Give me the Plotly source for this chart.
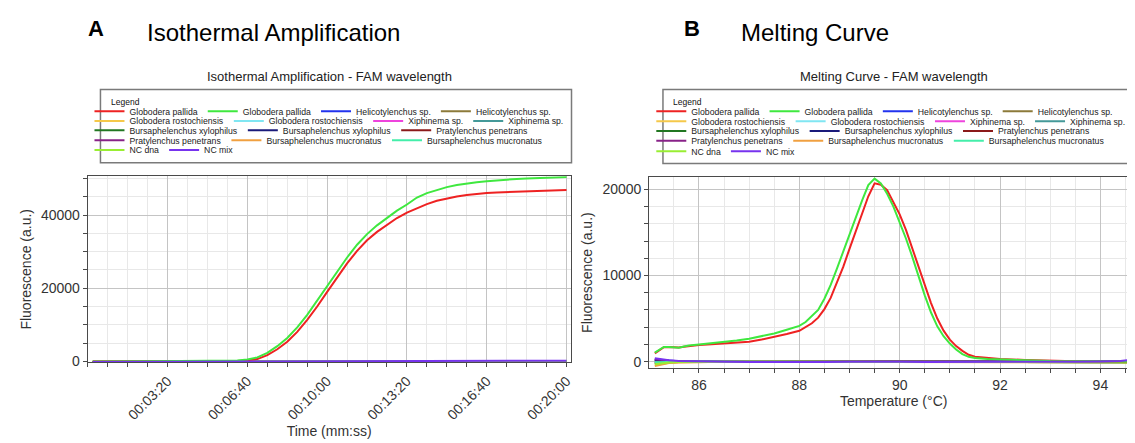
import plotly.graph_objects as go

W, H = 1135, 443
def px(x):
    return x / W
def py(y):
    return 1 - y / H

FONT = "Liberation Sans, Arial, sans-serif"

# ---------------- legend entries ----------------
series_names = [
    "Globodera pallida", "Globodera pallida", "Helicotylenchus sp.", "Helicotylenchus sp.",
    "Globodera rostochiensis", "Globodera rostochiensis", "Xiphinema sp.", "Xiphinema sp.",
    "Bursaphelenchus xylophilus", "Bursaphelenchus xylophilus", "Pratylenchus penetrans",
    "Pratylenchus penetrans", "Bursaphelenchus mucronatus", "Bursaphelenchus mucronatus",
    "NC dna", "NC mix",
]
series_colors = [
    "#ee2222", "#3fe83f", "#2233ee", "#8c7a3a",
    "#f5c84a", "#80e6f2", "#ee44dd", "#449999",
    "#227722", "#1a1a7a", "#8b1a1a",
    "#882288", "#f0a040", "#44eeaa",
    "#99ee33", "#7733ee",
]
legend_row = [0, 0, 0, 0, 1, 1, 1, 1, 2, 2, 2, 3, 3, 3, 4, 4]

# ---------------- A: isothermal amplification ----------------
amp_time = [12.5, 25, 50, 75, 100, 125, 150, 175, 200, 225, 250, 275, 300, 325, 350, 375,
            400, 425, 450, 475, 500, 525, 550, 575, 600, 625, 650, 675, 700, 725, 750, 775,
            800, 825, 850, 875, 900, 925, 950, 975, 1000, 1025, 1050, 1075, 1100, 1125,
            1150, 1175, 1200]
amp_gp_1 = [-150, -140, -130, -120, -110, -100, -90, -80, -70, -60, -50, -40, -20, 0, 40, 110,
            260, 620, 1700, 3300, 5350, 8050, 11350, 15000, 19000, 23000, 26800, 30200, 33100,
            35400, 37400, 39200, 40700, 41900, 43000, 43900, 44600, 45100, 45500, 45800, 46050,
            46180, 46280, 46350, 46420, 46500, 46580, 46700, 46840]
amp_gp_2 = [-120, -110, -100, -90, -80, -70, -60, -50, -40, -30, -20, 0, 20, 50, 100, 200,
            480, 1080, 2300, 4150, 6400, 9300, 12700, 16700, 20700, 24700, 28400, 31900, 34800,
            37200, 39300, 41200, 42900, 44800, 46000, 46900, 47650, 48200, 48650, 49000, 49280,
            49550, 49750, 49880, 50000, 50100, 50220, 50320, 50420]
amp_flat_t = [12.5, 100, 200, 300, 400, 500, 600, 700, 800, 900, 1000, 1100, 1200]
amp_helico_1 = [-160, -140, -120, -100, -90, -70, -50, -40, -20, 0, 20, 40, 60]
amp_helico_2 = [-140, -130, -110, -100, -80, -60, -50, -30, -10, 10, 30, 50, 70]
amp_rosto_1 = [-170, -150, -130, -110, -90, -70, -60, -40, -20, 0, 20, 30, 50]
amp_rosto_2 = [-150, -140, -120, -100, -90, -70, -50, -30, -10, 10, 30, 60, 80]
amp_xiph_1 = [-130, -120, -100, -90, -70, -60, -40, -30, -10, 10, 30, 50, 70]
amp_xiph_2 = [-160, -150, -130, -110, -100, -80, -60, -40, -20, 0, 20, 40, 60]
amp_bx_1 = [-150, -130, -120, -100, -80, -70, -50, -30, -10, 10, 30, 50, 70]
amp_bx_2 = [-170, -150, -140, -120, -100, -80, -60, -40, -20, 0, 10, 30, 50]
amp_pp_1 = [-140, -120, -110, -90, -80, -60, -40, -20, 0, 20, 40, 60, 80]
amp_pp_2 = [-160, -140, -130, -110, -90, -70, -60, -40, -20, -10, 10, 30, 50]
amp_bm_1 = [-150, -140, -120, -100, -90, -70, -50, -30, -10, 10, 30, 50, 60]
amp_bm_2 = [-130, -120, -110, -90, -80, -60, -40, -30, -10, 10, 30, 40, 60]
amp_nc_dna = [-160, -150, -130, -110, -90, -80, -60, -40, -20, 0, 20, 40, 60]
amp_nc_mix = [-180, -160, -140, -120, -100, -80, -50, -20, 10, 50, 90, 130, 170]
amp_tick_vals = [200, 400, 600, 800, 1000, 1200]
amp_tick_text = ["00:03:20", "00:06:40", "00:10:00", "00:13:20", "00:16:40", "00:20:00"]

# ---------------- B: melting curve ----------------
melt_T = [85.12, 85.2, 85.3, 85.4, 85.5, 85.6, 85.7, 85.8, 86.0, 86.25, 86.5, 86.75, 87.0,
          87.25, 87.5, 87.75, 88.0, 88.125, 88.25, 88.375, 88.5, 88.625, 88.75, 88.875, 89.0,
          89.125, 89.25, 89.375, 89.5, 89.625, 89.75, 89.875, 90.0, 90.125, 90.25, 90.375,
          90.5, 90.625, 90.75, 90.875, 91.0, 91.125, 91.25, 91.375, 91.5, 91.75, 92.0, 92.5,
          93.0, 93.5, 94.0, 94.5, 94.73]
melt_gp_1 = [950, 1300, 1680, 1700, 1680, 1650, 1720, 1820, 1940, 2020, 2100, 2200, 2320,
             2560, 2840, 3200, 3580, 4000, 4450, 5100, 6100, 7400, 9100, 11000, 13100,
             15100, 17100, 19200, 20700, 20550, 19900, 18500, 17100, 15300, 13200, 11000,
             8800, 6800, 5000, 3600, 2550, 1800, 1250, 800, 570, 400, 300, 200,
             100, 40, 0, -20, 0]
melt_gp_2 = [1050, 1350, 1700, 1700, 1660, 1620, 1750, 1880, 2000, 2130, 2290, 2460, 2660,
             2930, 3270, 3700, 4150, 4600, 5300, 6000, 7300, 8900, 10800, 12800, 14800,
             16800, 18700, 20500, 21250, 20700, 19500, 18000, 16200, 14300, 12200, 9900,
             7700, 5700, 4100, 2950, 2100, 1400, 880, 560, 420, 300, 230, 150,
             60, 20, 0, 0, 20]
melt_flat_T = [85.12, 85.25, 85.4, 85.6, 86.0, 86.5, 87.0, 87.5, 88.0, 88.5, 89.0, 89.5,
               90.0, 90.5, 91.0, 91.5, 92.0, 92.5, 93.0, 93.5, 94.0, 94.4, 94.6, 94.73]
melt_helico_1 = [250, 170, 90, 40, 10, -10, -20, -30, -30, -20, -10, 0, -10, -20, -20, -20, -10, -10, -20, -10, 0, 20, 60, 150]
melt_helico_2 = [120, 80, 40, 20, 0, -10, -20, -20, -30, -20, -10, 0, -10, -20, -20, -10, -10, -10, -10, -10, 0, 10, 30, 80]
melt_rosto_1 = [-420, -260, -120, -60, -30, -10, -10, -10, -10, -10, 0, 0, 0, -10, -10, -10, -20, -20, -20, -30, -30, -60, -120, -220]
melt_rosto_2 = [-100, -60, -30, -10, 0, 0, -10, -10, -10, -10, 0, 10, 0, -10, -10, -10, -10, -10, -20, -20, -20, -30, -50, -90]
melt_xiph_1 = [180, 110, 60, 30, 10, 0, -10, -20, -20, -20, -10, 0, -10, -20, -20, -20, -10, -10, -10, -10, 0, 20, 50, 120]
melt_xiph_2 = [60, 40, 20, 10, 0, -10, -10, -20, -20, -20, -10, 0, -10, -10, -20, -20, -10, -10, -10, -10, 0, 10, 20, 60]
melt_bx_1 = [-200, -120, -60, -30, -10, -10, -10, -10, -10, -10, 0, 0, 0, -10, -10, -10, -10, -10, -20, -20, -20, -30, -60, -100]
melt_bx_2 = [200, 130, 70, 30, 10, 0, -10, -20, -20, -20, -10, 0, -10, -20, -20, -20, -10, -10, -10, -10, 0, 20, 60, 140]
melt_pp_1 = [-150, -90, -40, -20, -10, 0, -10, -10, -10, -10, 0, 0, 0, -10, -10, -10, -10, -10, -10, -20, -20, -30, -50, -80]
melt_pp_2 = [280, 190, 100, 50, 10, -10, -20, -30, -30, -20, -10, 0, -10, -20, -30, -20, -20, -10, -20, -10, 0, 30, 90, 220]
melt_bm_1 = [-520, -330, -170, -90, -40, -20, -10, -10, -10, -10, -10, 0, 0, -10, -10, -10, -20, -20, -30, -30, -40, -80, -160, -320]
melt_bm_2 = [-80, -50, -20, -10, 0, 0, -10, -10, -10, -10, 0, 10, 0, -10, -10, -10, -10, -10, -10, -10, -10, -20, -40, -70]
melt_nc_dna = [-300, -180, -90, -40, -10, -10, -10, -10, -10, -10, 0, 10, 0, -10, -10, -10, -10, -10, -10, -20, -20, -40, -70, -120]
melt_nc_mix = [380, 260, 150, 80, 20, -20, -40, -60, -70, -50, -20, 10, -10, -40, -50, -40, -30, -30, -40, -20, 0, 60, 200, 480]

amp_series = [amp_gp_1, amp_gp_2, amp_helico_1, amp_helico_2, amp_rosto_1, amp_rosto_2,
              amp_xiph_1, amp_xiph_2, amp_bx_1, amp_bx_2, amp_pp_1, amp_pp_2, amp_bm_1,
              amp_bm_2, amp_nc_dna, amp_nc_mix]
melt_series = [melt_gp_1, melt_gp_2, melt_helico_1, melt_helico_2, melt_rosto_1, melt_rosto_2,
               melt_xiph_1, melt_xiph_2, melt_bx_1, melt_bx_2, melt_pp_1, melt_pp_2, melt_bm_1,
               melt_bm_2, melt_nc_dna, melt_nc_mix]

fig = go.Figure()

# drawing order: baseline series, then the two Globodera pallida curves, NC mix on top
draw_order = list(range(2, 15)) + [0, 1, 15]

for panel, (series, xa, ya, leg0) in enumerate(
        [(amp_series, "x", "y", 0), (melt_series, "x2", "y2", 5)]):
    for i in draw_order:
        if panel == 0:
            xs = amp_time if i < 2 else amp_flat_t
        else:
            xs = melt_T if i < 2 else melt_flat_T
        lg_idx = leg0 + legend_row[i] + 1
        lg = "legend" if lg_idx == 1 else f"legend{lg_idx}"
        fig.add_trace(go.Scatter(
            x=xs, y=series[i], mode="lines", name=series_names[i],
            line=dict(color=series_colors[i], width=2),
            xaxis=xa, yaxis=ya, legend=lg, legendrank=i + 1,
        ))

# ---------------- axes ----------------
major_grid = "#c4c4c4"
minor_grid = "#e8e8e8"
axis_line = "#4a4a4a"
tick_font = dict(family=FONT, size=14, color="#333333")
title_font = dict(family=FONT, size=14, color="#333333")

common = dict(showline=True, mirror=True, linecolor=axis_line, linewidth=1.2,
              ticks="outside", ticklen=4, tickcolor=axis_line, tickfont=tick_font,
              showgrid=True, gridcolor=major_grid, gridwidth=1, zeroline=False)

fig.update_layout(
    xaxis=dict(domain=[px(80), px(564)], range=[0, 1210], anchor="y",
               tickmode="array", tickvals=amp_tick_vals, ticktext=amp_tick_text,
               tickangle=-45,
               minor=dict(dtick=50, tick0=0, ticks="outside", ticklen=4, tickcolor=axis_line,
                          showgrid=True, gridcolor=minor_grid),
               title=dict(text="Time (mm:ss)", font=title_font, standoff=4),
               **common),
    yaxis=dict(domain=[py(360), py(171)], range=[-270, 50610], anchor="x",
               dtick=20000, tick0=0, tickformat="d",
               minor=dict(dtick=5000, tick0=0, ticks="outside", ticklen=4, tickcolor=axis_line,
                          showgrid=True, gridcolor=minor_grid),
               title=dict(text="Fluorescence (a.u.)", font=title_font, standoff=6),
               **common),
    xaxis2=dict(domain=[px(643), px(1133)], range=[85.01, 94.75], anchor="y2",
                dtick=2, tick0=86,
                minor=dict(dtick=0.5, tick0=85, ticks="outside", ticklen=4, tickcolor=axis_line,
                           showgrid=True, gridcolor=minor_grid),
                title=dict(text="Temperature (°C)", font=title_font, standoff=4),
                **common),
    yaxis2=dict(domain=[py(366), py(171.7)], range=[-766, 21440], anchor="x2",
                dtick=10000, tick0=0, tickformat="d",
                minor=dict(dtick=2000, tick0=0, ticks="outside", ticklen=4, tickcolor=axis_line,
                           showgrid=True, gridcolor=minor_grid),
                title=dict(text="Fluorescence (a.u.)", font=title_font, standoff=6),
                **common),
)

# ---------------- legends (one per row, flowing horizontally) ----------------
leg_font = dict(family=FONT, size=8.7, color="#222222")
left_rows_y = [105, 114.7, 124.3, 134.3, 144.3]
right_rows_y = [105, 115, 125, 135, 145.5]
legends = {}
for k, yy in enumerate(left_rows_y + right_rows_y):
    key = "legend" if k == 0 else f"legend{k + 1}"
    lx = 81.7 if k < 5 else 645
    legends[key] = dict(orientation="h", x=px(lx), xanchor="left", y=py(yy), yanchor="middle",
                        bgcolor="rgba(0,0,0,0)", borderwidth=0, font=leg_font,
                        traceorder="normal", itemclick=False, itemdoubleclick=False)
fig.update_layout(**legends)

# legend boxes
for (x0, x1, y0, y1) in [(92.7, 565, 82.7, 157.3), (656.7, 1132, 82.7, 158)]:
    fig.add_shape(type="rect", xref="paper", yref="paper",
                  x0=px(x0), x1=px(x1), y0=py(y1), y1=py(y0),
                  line=dict(color="#7a7a7a", width=1.5), fillcolor="rgba(0,0,0,0)", layer="above")

annotations = [
    dict(text="Legend", x=px(101.7), y=py(95.5), xanchor="left", yanchor="middle",
         font=dict(family=FONT, size=8.5, color="#111111"), showarrow=False),
    dict(text="Legend", x=px(665), y=py(95.5), xanchor="left", yanchor="middle",
         font=dict(family=FONT, size=8.5, color="#111111"), showarrow=False),
    dict(text="<b>A</b>", x=px(78), y=py(20.5), xanchor="left", yanchor="middle",
         font=dict(family=FONT, size=22, color="#000000"), showarrow=False),
    dict(text="Isothermal Amplification", x=px(137), y=py(25), xanchor="left", yanchor="middle",
         font=dict(family=FONT, size=24, color="#000000"), showarrow=False),
    dict(text="<b>B</b>", x=px(676), y=py(20.5), xanchor="left", yanchor="middle",
         font=dict(family=FONT, size=22, color="#000000"), showarrow=False),
    dict(text="Melting Curve", x=px(733), y=py(25), xanchor="left", yanchor="middle",
         font=dict(family=FONT, size=24, color="#000000"), showarrow=False),
    dict(text="Isothermal Amplification - FAM wavelength", x=px(322), y=py(70),
         xanchor="center", yanchor="middle",
         font=dict(family=FONT, size=13, color="#222222"), showarrow=False),
    dict(text="Melting Curve - FAM wavelength", x=px(888), y=py(70),
         xanchor="center", yanchor="middle",
         font=dict(family=FONT, size=13, color="#222222"), showarrow=False),
]
for a in annotations:
    a.update(xref="paper", yref="paper")

fig.update_layout(
    annotations=annotations,
    width=W, height=H, autosize=False,
    margin=dict(l=0, r=0, t=0, b=0),
    paper_bgcolor="white", plot_bgcolor="white",
    font=dict(family=FONT, color="#333333"),
    showlegend=True,
)

fig.write_html("out.html")
